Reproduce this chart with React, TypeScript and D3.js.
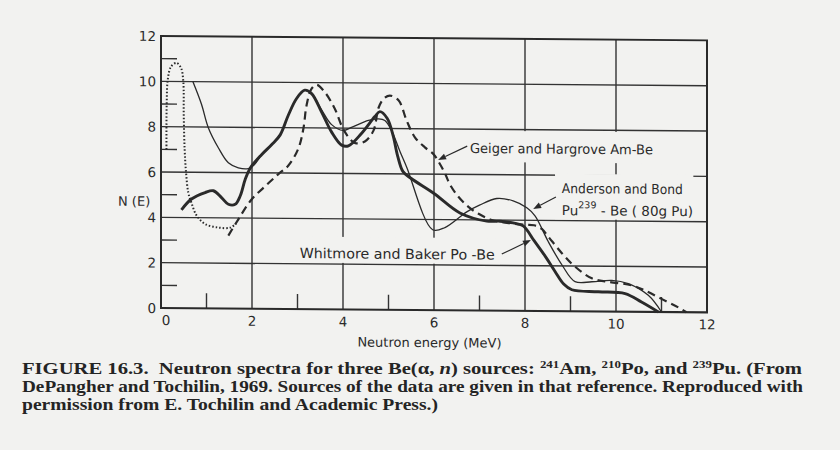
import React from 'react';
import * as d3 from 'd3';

type Pt = [number, number];

// axis ticks (MeV / N(E))
const energyTicks = [0, 2, 4, 6, 8, 10, 12];
const countTicks = [0, 2, 4, 6, 8, 10, 12];
const minorTicks = [1, 3, 5, 7, 9, 11];

// Whitmore and Baker Po-Be (heavy solid line)
const poBe: Pt[] = [
  [0.45, 4.34], [0.67, 4.82], [0.97, 5.11], [1.15, 5.19], [1.33, 4.89], [1.48, 4.6],
  [1.63, 4.6], [1.74, 4.97], [1.85, 5.7], [1.96, 6.2], [2.21, 6.8], [2.43, 7.24],
  [2.62, 7.68], [2.8, 8.56], [2.98, 9.29], [3.16, 9.66], [3.31, 9.51], [3.53, 8.7],
  [3.75, 7.82], [3.97, 7.25], [4.12, 7.22], [4.41, 7.78], [4.7, 8.52], [4.81, 8.74],
  [4.97, 8.45], [5.1, 7.7], [5.2, 6.8], [5.32, 6.1], [5.5, 5.8], [6.0, 5.15],
  [6.57, 4.3], [7.16, 3.95], [7.45, 3.95], [7.74, 3.88], [7.96, 3.75], [8.2, 3.1],
  [8.45, 2.4], [8.66, 1.75], [8.85, 1.2], [9.03, 0.95], [9.61, 0.87], [10.2, 0.8],
  [10.56, 0.43], [10.93, 0],
];

// Anderson and Bond Pu239-Be, 80 g Pu (thin solid line)
const puBe: Pt[] = [
  [0.7, 10.0], [0.89, 9.0], [1.04, 7.97], [1.26, 7.09], [1.48, 6.43], [1.7, 6.21],
  [1.92, 6.18], [2.05, 6.35], [2.21, 6.8], [2.43, 7.24], [2.62, 7.68], [2.8, 8.56],
  [2.98, 9.29], [3.16, 9.66], [3.31, 9.51], [3.53, 8.8], [3.75, 8.15], [4.0, 7.9],
  [4.2, 8.05], [4.56, 8.35], [4.78, 8.42], [4.92, 8.35], [5.07, 7.9], [5.25, 7.0],
  [5.4, 6.3], [5.97, 3.55], [6.24, 3.65], [6.72, 4.35], [7.0, 4.65], [7.38, 4.95],
  [7.74, 4.85], [8.04, 4.55], [8.22, 4.2], [8.51, 3.07], [8.81, 2.05], [9.1, 1.31],
  [9.47, 1.31], [9.91, 1.38], [10.27, 1.24], [10.71, 0.73], [11.0, 0],
];

// Geiger and Hargrove Am-Be (dashed line)
const amBe: Pt[] = [
  [1.48, 3.22], [1.7, 3.94], [1.99, 4.82], [2.29, 5.41], [2.58, 5.95], [2.8, 6.33],
  [3.02, 7.09], [3.13, 7.97], [3.2, 9.0], [3.31, 9.73], [3.42, 9.9], [3.6, 9.58],
  [3.82, 8.85], [4.02, 7.9], [4.26, 7.35], [4.48, 7.42], [4.67, 7.9], [4.78, 8.9],
  [4.89, 9.3], [5.03, 9.45], [5.22, 9.25], [5.4, 8.35], [5.58, 7.62], [5.8, 7.18],
  [5.99, 6.88], [6.13, 6.45], [6.25, 6.0], [6.35, 5.55], [6.53, 5.03], [6.75, 4.58],
  [6.97, 4.28], [7.27, 4.0], [7.64, 3.87], [8.0, 3.8], [8.2, 3.78], [8.37, 3.62],
  [8.51, 3.29], [8.81, 2.56], [9.06, 2.04], [9.47, 1.46], [9.83, 1.31], [10.34, 1.17],
  [10.63, 0.95], [11.0, 0.58], [11.37, 0.21], [11.55, 0],
];

// low-energy peak (dotted line)
const lowPeak: Pt[] = [
  [0.12, 7.0], [0.125, 9.0], [0.15, 10.1], [0.22, 10.65], [0.34, 10.82], [0.44, 10.6],
  [0.49, 10.0], [0.5, 8.5], [0.52, 7.0], [0.55, 6.0], [0.6, 5.1], [0.67, 4.65],
  [0.78, 4.1], [0.97, 3.72], [1.26, 3.57], [1.52, 3.57], [1.65, 3.75],
];

const W = 840;
const H = 450;
const margin = { left: 161, right: 707, top: 36, bottom: 308 };
const skew = 0.008; // the scan is slightly sheared
const bg = '#f2f2f0';
const ink = '#2a2a2a';
const gridInk = '#333';
const labelFont = '"DejaVu Sans", sans-serif';
const serif = '"Liberation Serif", serif';

export default function App() {
  const x = d3.scaleLinear().domain([0, 12]).range([margin.left, margin.right]);
  const y = d3.scaleLinear().domain([0, 12]).range([margin.bottom, margin.top]);

  const line = d3
    .line<Pt>()
    .x(d => x(d[0]))
    .y(d => y(d[1]))
    .curve(d3.curveCatmullRom.alpha(0.5));

  const arrow = (x1: number, y1: number, x2: number, y2: number, key: string) => {
    const ax = x(x1), ay = y(y1), bx = x(x2), by = y(y2);
    const ang = Math.atan2(by - ay, bx - ax);
    const len = 8, half = 3;
    const px = bx - len * Math.cos(ang), py = by - len * Math.sin(ang);
    const nx = -Math.sin(ang) * half, ny = Math.cos(ang) * half;
    return (
      <g key={key}>
        <line x1={ax} y1={ay} x2={px} y2={py} stroke={ink} strokeWidth={1.2} />
        <polygon points={`${bx},${by} ${px + nx},${py + ny} ${px - nx},${py - ny}`} fill={ink} />
      </g>
    );
  };

  const box = (x0: number, x1: number, y0: number, y1: number) => (
    <rect x={x(x0)} y={y(y1)} width={x(x1) - x(x0)} height={y(y0) - y(y1)} fill={bg} />
  );

  return (
    <svg
      width={W}
      height={H}
      style={{ position: 'absolute', left: 0, top: 0, background: bg }}
    >
      <rect width={W} height={H} fill={bg} />
      <g transform={`matrix(1, ${skew}, 0, 1, 0, ${-skew * margin.left})`}>
        {/* grid */}
        {energyTicks.slice(1, -1).map(v => (
          <line key={`gx${v}`} x1={x(v)} x2={x(v)} y1={y(12)} y2={y(0)} stroke={gridInk} strokeWidth={1.4} />
        ))}
        {countTicks.slice(1, -1).map(v => (
          <line key={`gy${v}`} x1={x(0)} x2={x(12)} y1={y(v)} y2={y(v)} stroke={gridInk} strokeWidth={1.4} />
        ))}
        {/* minor ticks */}
        {minorTicks.map(v => (
          <line key={`mx${v}`} x1={x(v)} x2={x(v)} y1={y(0)} y2={y(0) - 15} stroke={gridInk} strokeWidth={1.4} />
        ))}
        {minorTicks.map(v => (
          <line key={`my${v}`} x1={x(0)} x2={x(0) + 16} y1={y(v)} y2={y(v)} stroke={gridInk} strokeWidth={1.4} />
        ))}

        {/* label backgrounds that cut the grid */}
        {box(6.6, 10.95, 6.55, 7.93)}
        {box(8.66, 11.7, 4.06, 6.06)}
        {box(2.95, 7.45, 2.05, 3.2)}

        {/* frame */}
        <rect
          x={x(0)}
          y={y(12)}
          width={x(12) - x(0)}
          height={y(0) - y(12)}
          fill="none"
          stroke={ink}
          strokeWidth={2}
        />

        {/* curves */}
        <path d={line(lowPeak) || ''} fill="none" stroke={ink} strokeWidth={2} strokeDasharray="1.5,2" />
        <path d={line(puBe) || ''} fill="none" stroke={ink} strokeWidth={1.3} />
        <path d={line(amBe) || ''} fill="none" stroke={ink} strokeWidth={2.2} strokeDasharray="8,5" />
        <path d={line(poBe) || ''} fill="none" stroke={ink} strokeWidth={2.9} strokeLinejoin="round" />

        {/* tick labels */}
        {countTicks.map(v => (
          <text
            key={`ty${v}`}
            x={x(0) - 5}
            y={y(v)}
            textAnchor="end"
            dominantBaseline="central"
            fontFamily={labelFont}
            fontSize={13.5}
            fill={ink}
          >
            {v}
          </text>
        ))}
        {energyTicks.map(v => (
          <text
            key={`tx${v}`}
            x={x(v) + (v === 0 ? 5 : 0)}
            y={y(0) + 17}
            textAnchor="middle"
            fontFamily={labelFont}
            fontSize={13.5}
            fill={ink}
          >
            {v}
          </text>
        ))}
        <text x={x(0) - 43} y={y(4.5)} fontFamily={labelFont} fontSize={13} fill={ink}>
          N (E)
        </text>
        <text
          x={x(5.9)}
          y={y(0) + 37}
          textAnchor="middle"
          fontFamily={labelFont}
          fontSize={13}
          fill={ink}
        >
          Neutron energy (MeV)
        </text>

        {/* annotations */}
        <text x={x(6.79)} y={y(6.95)} fontFamily={labelFont} fontSize={13.5} fill={ink} textLength={183} lengthAdjust="spacingAndGlyphs">
          Geiger and Hargrove Am-Be
        </text>
        {arrow(6.73, 7.25, 6.09, 6.63, 'a1')}

        <text x={x(8.81)} y={y(5.21)} fontFamily={labelFont} fontSize={13.5} fill={ink} textLength={121} lengthAdjust="spacingAndGlyphs">
          Anderson and Bond
        </text>
        <text x={x(8.81)} y={y(4.24)} fontFamily={labelFont} fontSize={13.5} fill={ink}>
          Pu
          <tspan dy={-7} fontSize={9.5}>239</tspan>
          <tspan dy={7}> - Be ( 80g Pu)</tspan>
        </text>
        {arrow(8.68, 5.04, 8.18, 4.5, 'a2')}

        <text x={x(3.05)} y={y(2.25)} fontFamily={labelFont} fontSize={14} fill={ink} textLength={195} lengthAdjust="spacingAndGlyphs">
          Whitmore and Baker Po -Be
        </text>
        {arrow(7.49, 2.5, 8.13, 3.13, 'a3')}
      </g>

      {/* caption */}
      <g fontFamily={serif} fontSize={16} fontWeight="bold" fill="#242424">
        <text x={22} y={374} textLength={780} lengthAdjust="spacingAndGlyphs">
          <tspan>FIGURE 16.3.</tspan>
          <tspan dx={8}>{'Neutron spectra for three Be(α, '}</tspan>
          <tspan fontStyle="italic">n</tspan>
          <tspan>{') sources: '}</tspan>
          <tspan dy={-6} fontSize={10}>241</tspan>
          <tspan dy={6}>Am, </tspan>
          <tspan dy={-6} fontSize={10}>210</tspan>
          <tspan dy={6}>Po, and </tspan>
          <tspan dy={-6} fontSize={10}>239</tspan>
          <tspan dy={6}>Pu. (From</tspan>
        </text>
        <text x={22} y={392} textLength={781} lengthAdjust="spacingAndGlyphs">
          DePangher and Tochilin, 1969. Sources of the data are given in that reference. Reproduced with
        </text>
        <text x={22} y={410} textLength={416} lengthAdjust="spacingAndGlyphs">
          permission from E. Tochilin and Academic Press.)
        </text>
      </g>
    </svg>
  );
}
